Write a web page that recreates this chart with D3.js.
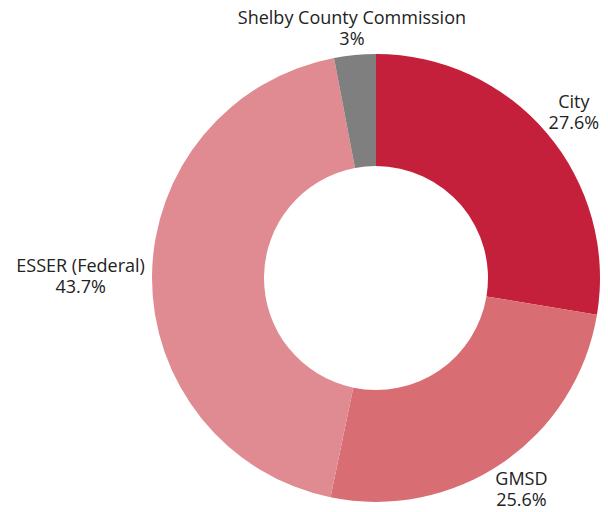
<!DOCTYPE html>
<html>
<head>
<meta charset="utf-8">
<script src="https://cdn.jsdelivr.net/npm/d3@7"></script>
<style>
  body { margin: 0; background: #fff; }
  text { font-family: "Open Sans", sans-serif; fill: #222; }
</style>
</head>
<body>
<div id="chart"></div>
<script>
// data
const categories = ["City", "GMSD", "ESSER (Federal)", "Shelby County Commission"];
const shares = [27.6, 25.6, 43.7, 3];
const labels = ["27.6%", "25.6%", "43.7%", "3%"];
const colors = ["#c41f3b", "#d96d74", "#df8b91", "#7f7f7f"];

const width = 608, height = 512;
const cx = 376, cy = 278;
const outerR = 224, innerR = 112;

const svg = d3.select("#chart").append("svg")
    .attr("width", width)
    .attr("height", height);

const g = svg.append("g").attr("transform", `translate(${cx},${cy})`);

const data = categories.map((c, i) => ({name: c, value: shares[i], label: labels[i], color: colors[i]}));

const pie = d3.pie().value(d => d.value).sort(null);
const arc = d3.arc().innerRadius(innerR).outerRadius(outerR);

const arcs = pie(data);

g.selectAll("path.slice")
  .data(arcs)
  .enter().append("path")
    .attr("class", "slice")
    .attr("d", arc)
    .attr("fill", d => d.data.color);

// labels outside, pushed out by their own box size
const lab = g.selectAll("text.lab")
  .data(arcs)
  .enter().append("text")
    .attr("class", "lab")
    .attr("text-anchor", "middle")
    .attr("font-size", 18);

lab.append("tspan")
    .attr("x", 0)
    .attr("y", -4)
    .text(d => d.data.name);
lab.append("tspan")
    .attr("x", 0)
    .attr("y", 17)
    .text(d => d.data.label);

lab.attr("transform", function(d) {
  const bb = this.getBBox();
  const a = (d.startAngle + d.endAngle) / 2;
  const s = Math.sin(a), c = Math.cos(a);
  const r = 231 + bb.width / 2 * Math.abs(s) + 14 * Math.abs(c);
  const dy = 4.5 * (1 - s * s);
  let ty = -r * c + dy;
  // keep inside the bottom edge
  ty = Math.min(ty, height - cy - (bb.y + bb.height) - 1);
  return `translate(${r * s},${ty})`;
});
</script>
</body>
</html>
